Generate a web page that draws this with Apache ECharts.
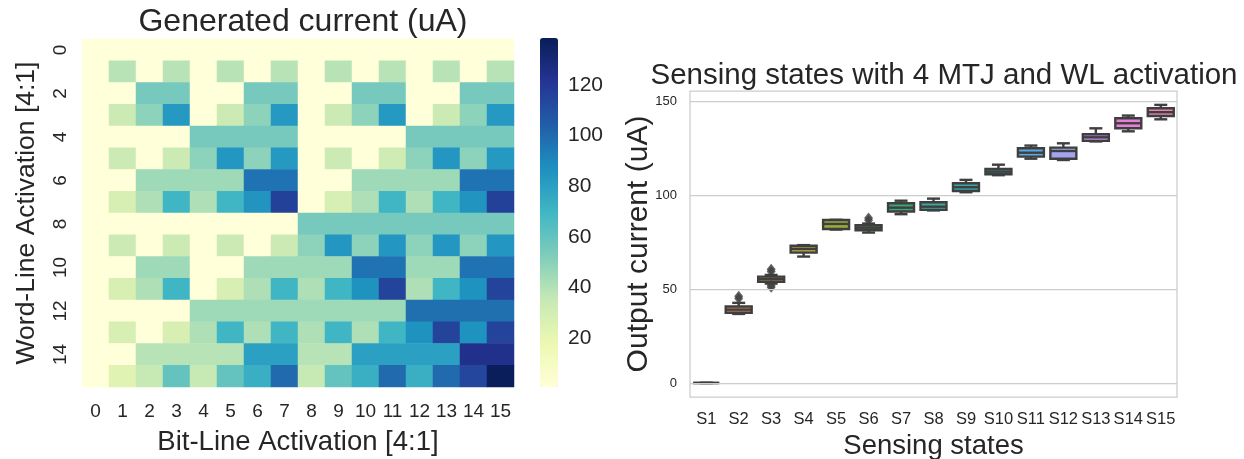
<!DOCTYPE html>
<html>
<head>
<meta charset="utf-8">
<script src="https://cdn.jsdelivr.net/npm/echarts@6/dist/echarts.min.js"></script>
<style>
  html, body { margin: 0; padding: 0; background: #fff; }
  #chart { width: 1244px; height: 459px; }
</style>
</head>
<body>
<div id="chart"></div>
<script>
// heatmap: word-line rows (0..15) x bit-line columns (0..15), current in uA
var bitLines = ["0","1","2","3","4","5","6","7","8","9","10","11","12","13","14","15"];
var wordLines = ["0","1","2","3","4","5","6","7","8","9","10","11","12","13","14","15"];
var currentRows = [
  [0,0,0,0,0,0,0,0,0,0,0,0,0,0,0,0],
  [0,39,0,39,0,39,0,39,0,39,0,39,0,39,0,39],
  [0,0,55,55,0,0,55,55,0,0,55,55,0,0,55,55],
  [0,33,49,83,0,33,49,83,0,33,49,83,0,33,49,83],
  [0,0,0,0,55,55,55,55,0,0,0,0,55,55,55,55],
  [0,33,0,33,49,84,49,83,0,33,0,32,49,84,49,83],
  [0,0,45,45,45,45,97,97,0,0,45,45,45,45,97,97],
  [0,28,41,70,41,70,85,116,0,28,41,70,41,70,85,116],
  [0,0,0,0,0,0,0,0,55,55,55,55,55,55,55,55],
  [0,33,0,33,0,33,0,33,49,84,49,84,49,84,49,84],
  [0,0,45,45,0,0,45,45,45,45,97,97,45,45,97,97],
  [0,28,41,70,0,28,41,70,41,70,86,115,41,70,86,115],
  [0,0,0,0,45,45,45,45,45,45,45,45,98,98,98,98],
  [0,28,0,28,41,70,41,70,41,70,41,70,86,115,86,115],
  [0,0,39,39,39,39,80,80,39,39,80,80,80,80,124,124],
  [0,24,35,60,35,60,73,100,35,60,73,100,73,100,114,138]
];
var colorbarTicks = [20, 40, 60, 80, 100, 120];

// box plot: [min, q1, median, q3, max] per sensing state
var states = ["S1","S2","S3","S4","S5","S6","S7","S8","S9","S10","S11","S12","S13","S14","S15"];
var boxStats = [
  [0, 0, 0, 0, 0],
  [36.8, 37.4, 39.1, 40.8, 42.7],
  [53.0, 54.0, 55.4, 56.7, 57.6],
  [67.4, 69.5, 71.5, 73.2, 73.5],
  [81.8, 82.1, 84.8, 86.9, 87.0],
  [80.2, 81.4, 82.8, 84.1, 85.0],
  [90.0, 91.4, 93.5, 95.8, 97.2],
  [92.0, 92.3, 94.0, 96.4, 98.3],
  [101.7, 102.4, 104.4, 106.5, 108.3],
  [110.8, 111.3, 112.7, 114.1, 116.4],
  [119.6, 120.7, 122.8, 125.2, 126.6],
  [118.9, 119.6, 123.7, 125.5, 127.8],
  [128.8, 129.1, 131.0, 132.6, 135.8],
  [134.2, 135.8, 138.5, 141.2, 142.6],
  [140.6, 142.4, 144.4, 146.5, 148.3]
];
// outliers: [state index, value]
var outliers = [[1, 45.0], [1, 46.2], [2, 51.0], [2, 52.0], [2, 59.5], [2, 60.6], [5, 86.8], [5, 88.0]];
var yTicks = [0, 50, 100, 150];

var boxColors = ["#e0879b","#e08a68","#c79a3f","#b0a23c","#9aab3c","#5a9c39","#3ba67a","#3ba89a",
                 "#3aa6ab","#3fa3be","#5aa9e0","#a3a3ee","#c48de8","#e57fd8","#e983b0"];
var ylgnbu = ["#ffffd9","#edf8b1","#c7e9b4","#7fcdbb","#41b6c4","#1d91c0","#225ea8","#253494","#081d58"];

var FONT = "Liberation Sans, Arial, sans-serif";
var INK = "#262626";

var heatData = [];
currentRows.forEach(function(row, r) {
  row.forEach(function(v, c) { heatData.push([c, r, v]); });
});

var boxData = boxStats.map(function(s, i) { return [i].concat(s); });

function renderBox(params, api) {
  var x = api.value(0);
  var lo = api.coord([x, api.value(1)]);
  var q1 = api.coord([x, api.value(2)]);
  var med = api.coord([x, api.value(3)]);
  var q3 = api.coord([x, api.value(4)]);
  var hi = api.coord([x, api.value(5)]);
  var w = api.size([1, 0])[0] * 0.8;
  var cx = lo[0];
  var stroke = { stroke: "#3f3f3f", lineWidth: 2.4, fill: null };
  return {
    type: "group",
    children: [
      { type: "line", shape: { x1: cx, y1: q3[1], x2: cx, y2: hi[1] }, style: stroke },
      { type: "line", shape: { x1: cx, y1: q1[1], x2: cx, y2: lo[1] }, style: stroke },
      { type: "line", shape: { x1: cx - w / 4, y1: hi[1], x2: cx + w / 4, y2: hi[1] }, style: stroke },
      { type: "line", shape: { x1: cx - w / 4, y1: lo[1], x2: cx + w / 4, y2: lo[1] }, style: stroke },
      { type: "rect", shape: { x: cx - w / 2, y: q3[1], width: w, height: q1[1] - q3[1] },
        style: { fill: boxColors[params.dataIndex], stroke: "#3f3f3f", lineWidth: 2.4 } },
      { type: "line", shape: { x1: cx - w / 2, y1: med[1], x2: cx + w / 2, y2: med[1] }, style: stroke }
    ]
  };
}

var chart = echarts.init(document.getElementById("chart"), null, { renderer: "canvas" });
chart.setOption({
  animation: false,
  backgroundColor: "#ffffff",
  textStyle: { fontFamily: FONT, color: INK },
  title: [
    { text: "Generated current (uA)", left: 298, top: 1, textAlign: "center",
      textStyle: { fontFamily: FONT, fontSize: 32, fontWeight: "normal", color: INK } },
    { text: "Sensing states with 4 MTJ and WL activation", left: 939, top: 56, textAlign: "center",
      textStyle: { fontFamily: FONT, fontSize: 29.5, fontWeight: "normal", color: INK } }
  ],
  grid: [
    { left: 82, top: 39, width: 432, height: 348, outerBoundsMode: "none" },
    { left: 690, top: 91, width: 487, height: 306, show: true, borderColor: "#cccccc", borderWidth: 1.25,
      outerBoundsMode: "none" },
    { left: 540, top: 38, width: 18, height: 349, outerBoundsMode: "none" }
  ],
  visualMap: {
    type: "continuous", seriesIndex: 0, min: 0.7, max: 138.5, calculable: false,
    orient: "vertical", left: 540, top: 38, itemWidth: 18, itemHeight: 349, padding: 0,
    inRange: { color: ylgnbu }
  },
  xAxis: [
    { type: "category", gridIndex: 0, data: bitLines, position: "bottom",
      axisLine: { show: false }, axisTick: { show: false },
      axisLabel: { fontSize: 19, color: INK, margin: 15, interval: 0 },
      name: "Bit-Line Activation [4:1]", nameLocation: "middle", nameGap: 41,
      nameTextStyle: { fontSize: 27.5, color: INK } },
    { type: "category", gridIndex: 1, data: states,
      axisLine: { show: false }, axisTick: { show: false },
      axisLabel: { fontSize: 16.5, color: INK, margin: 14, interval: 0 },
      name: "Sensing states", nameLocation: "middle", nameGap: 31,
      nameTextStyle: { fontSize: 27.5, color: INK } },
    { type: "value", gridIndex: 2, show: false, min: 0, max: 1 }
  ],
  yAxis: [
    { type: "category", gridIndex: 0, data: wordLines, inverse: true,
      axisLine: { show: false }, axisTick: { show: false },
      axisLabel: { fontSize: 19, color: INK, margin: 12, rotate: 90, interval: 1 },
      name: "Word-Line Activation [4:1]", nameLocation: "middle", nameGap: 42,
      nameTextStyle: { fontSize: 26.5, color: INK } },
    { type: "value", gridIndex: 1, min: -7.5, max: 155.7,
      axisLine: { show: false }, axisTick: { show: false }, splitLine: { show: false },
      axisLabel: { fontSize: 13, color: INK, margin: 13, customValues: yTicks },
      name: "Output current (uA)", nameLocation: "middle", nameGap: 36, nameMoveOverlap: false,
      nameTextStyle: { fontSize: 30, color: INK } },
    { type: "value", gridIndex: 2, position: "right", min: 0.7, max: 138.5,
      axisLine: { show: false }, splitLine: { show: false },
      axisTick: { show: true, length: 6, customValues: colorbarTicks, lineStyle: { color: INK, width: 1.2 } },
      axisLabel: { fontSize: 21, color: INK, margin: 10, customValues: colorbarTicks } }
  ],
  series: [
    { type: "heatmap", xAxisIndex: 0, yAxisIndex: 0, data: heatData,
      itemStyle: { borderWidth: 0 }, emphasis: { disabled: true } },
    { type: "line", xAxisIndex: 1, yAxisIndex: 1, data: [], z: 1, silent: true,
      markLine: { symbol: "none", silent: true, label: { show: false },
        lineStyle: { color: "#cccccc", width: 1.25, type: "solid" },
        data: yTicks.map(function(v) { return { yAxis: v }; }) } },
    { type: "custom", xAxisIndex: 1, yAxisIndex: 1, data: boxData, renderItem: renderBox, z: 3,
      encode: { x: 0, y: [1, 2, 3, 4, 5] } },
    { type: "scatter", xAxisIndex: 1, yAxisIndex: 1, data: outliers, z: 4,
      symbol: "diamond", symbolSize: [9, 11], itemStyle: { color: "#3f3f3f" } }
  ]
});
</script>
</body>
</html>
